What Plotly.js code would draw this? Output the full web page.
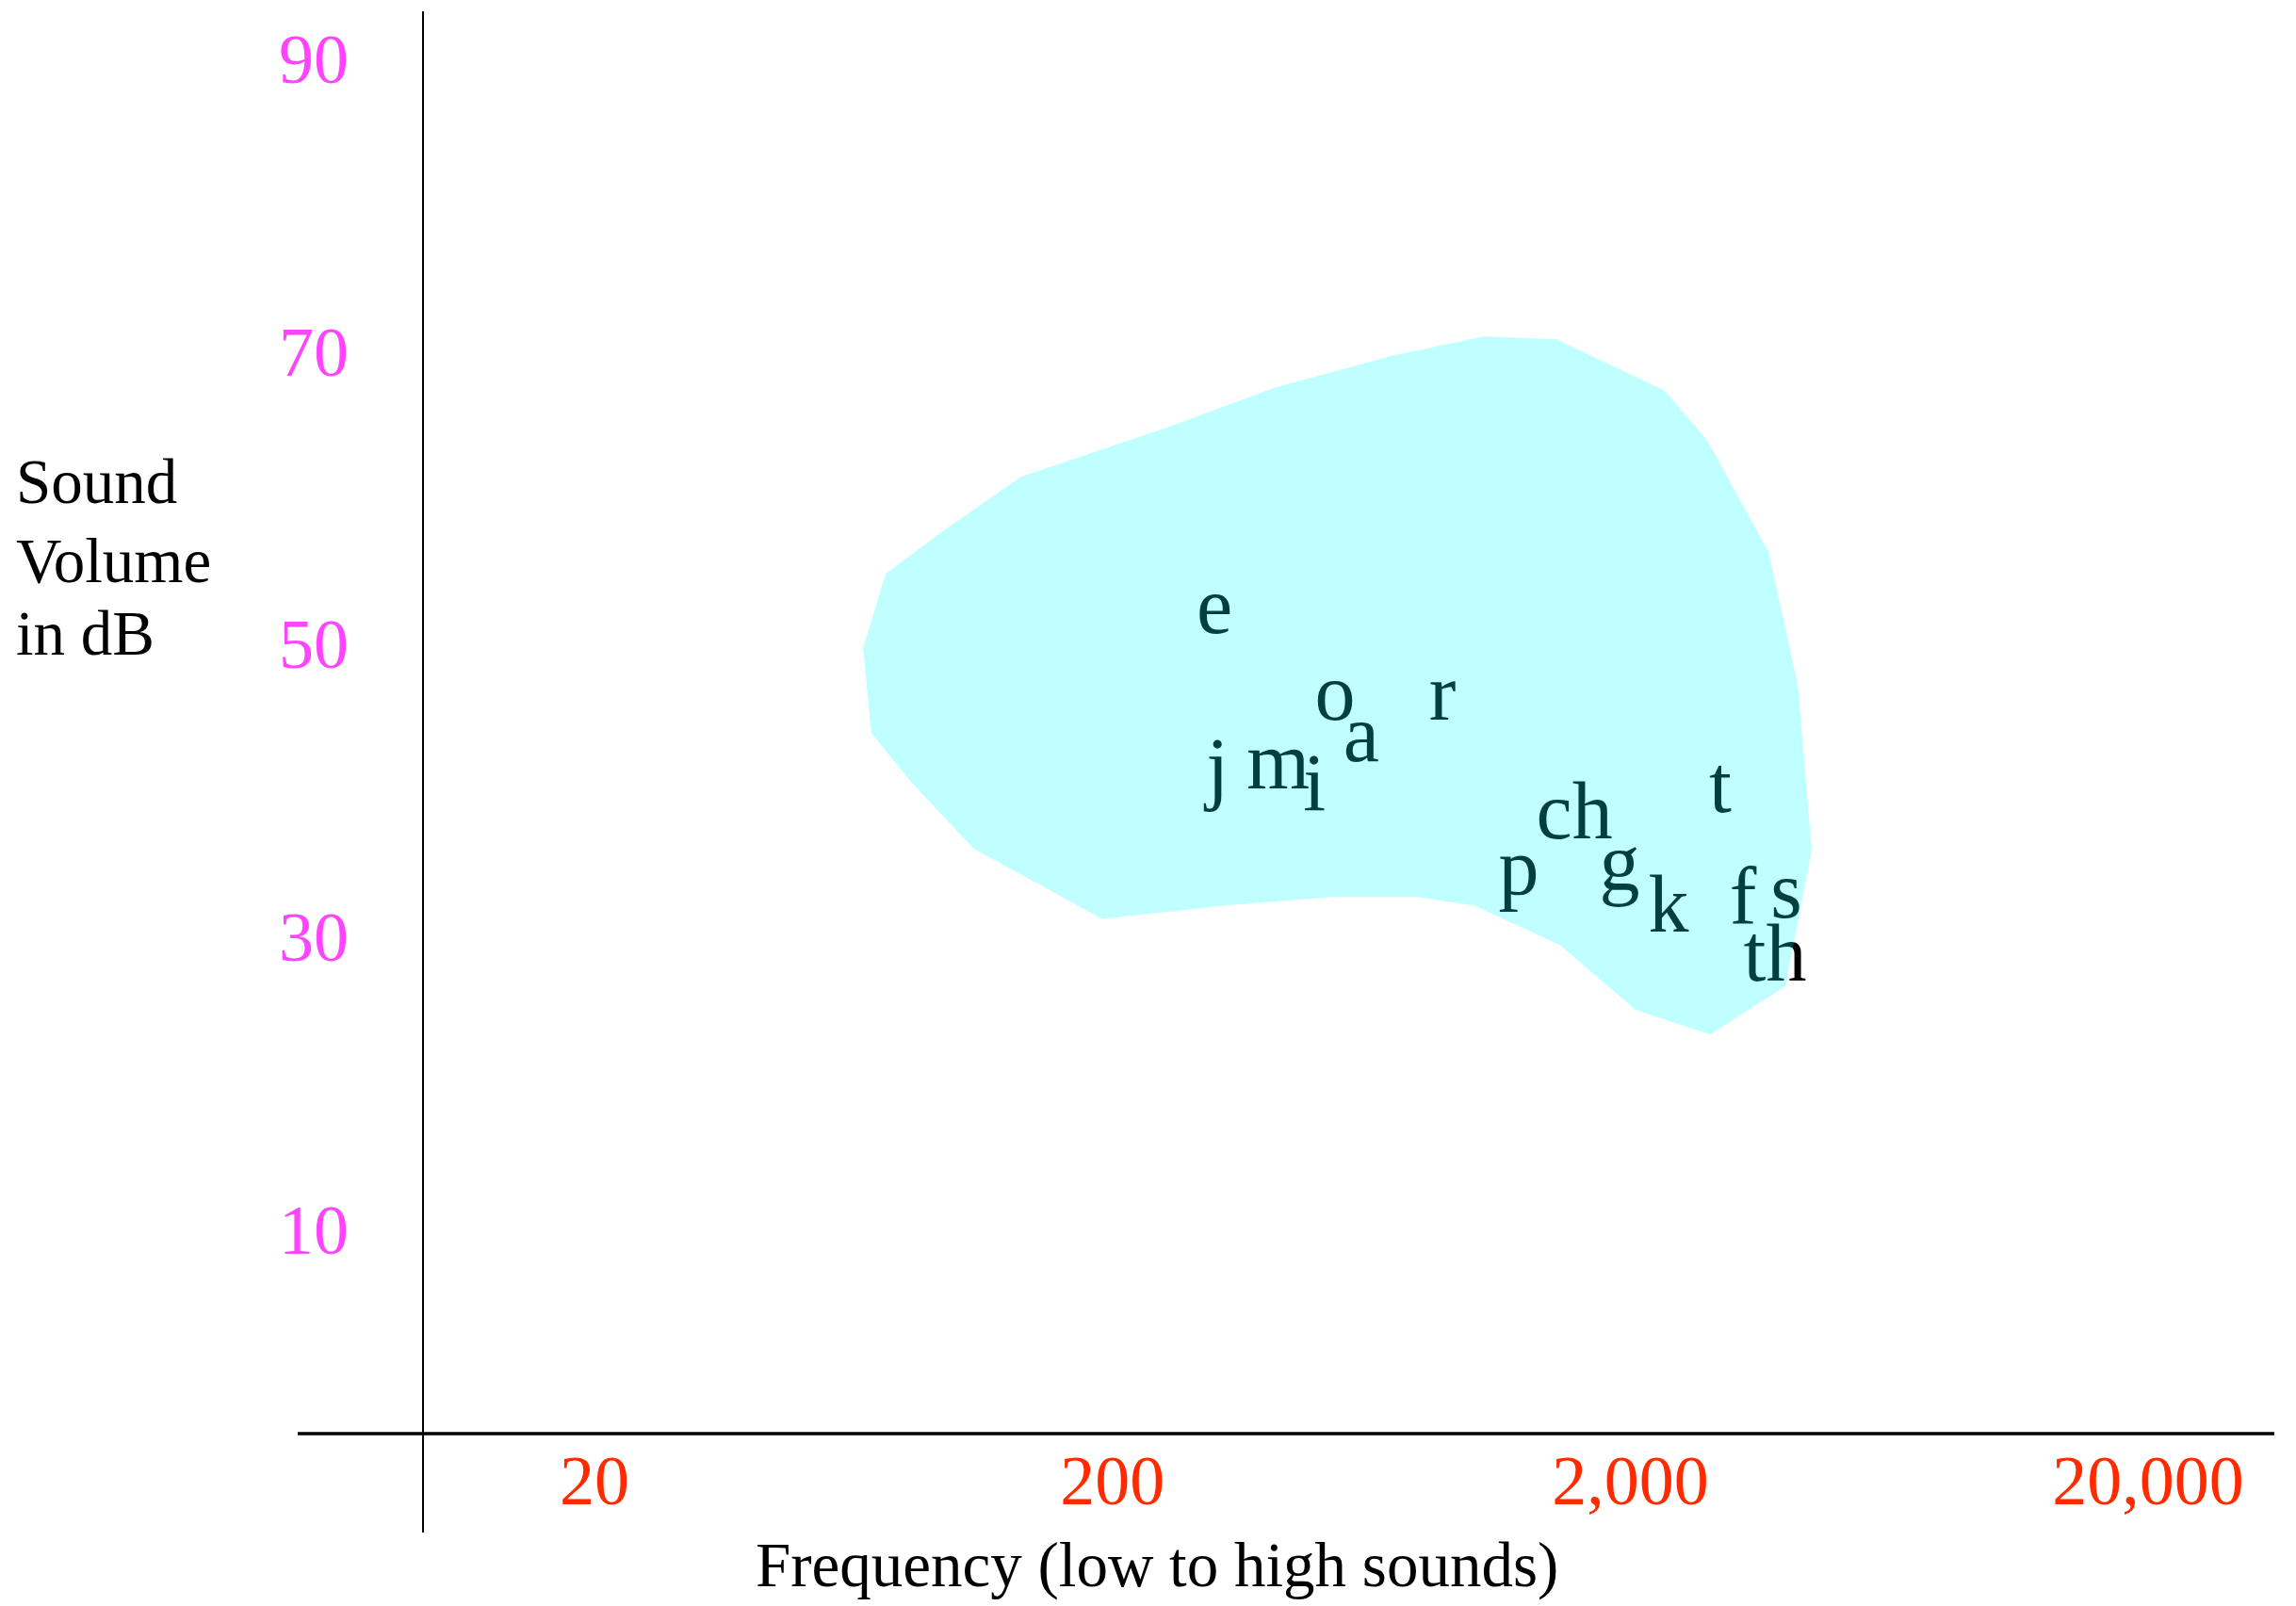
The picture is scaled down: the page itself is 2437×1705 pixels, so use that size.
<!DOCTYPE html>
<html>
<head>
<meta charset="utf-8">
<script src="https://cdn.plot.ly/plotly-3.0.1.min.js"></script>
<style>html,body{margin:0;padding:0;background:#fff;}#chart{width:2437px;height:1705px;}</style>
</head>
<body>
<div id="chart"></div>
<script>
// Speech sounds: letter, frequency (Hz), level (dB)
var phonemes = ['e', 'o', 'r', 'a', 'j', 'm', 'i', 't', 'ch', 'p', 'g', 'k', 'f', 's', 'th'];
var phonemeFreq = [315, 538, 868, 605, 319, 418, 491, 2985, 1560, 1218, 1907, 2371, 3300, 4000, 3806];
var phonemeDb = [52.1, 46.2, 46.2, 43.4, 41.1, 41.5, 40.0, 39.9, 38.1, 34.3, 34.6, 31.7, 32.3, 32.7, 28.4];

// Outline of the speech area
var bananaFreq = [66, 73, 95, 133, 256, 412, 695, 1043, 1440, 2331, 2815, 3696, 4209, 4481, 3985, 2850, 2048, 1465, 1000, 778, 531, 326, 191, 108, 82, 68.5];
var bananaDb = [49.7, 54.8, 57.8, 61.4, 64.8, 67.5, 69.7, 71.0, 70.8, 67.3, 63.9, 56.3, 47.3, 35.9, 26.6, 23.3, 25.0, 29.4, 32.1, 32.7, 32.7, 32.1, 31.2, 36.0, 40.5, 43.9];

// Tick labels
var xTickVals = [20, 200, 2000, 20000];
var xTickText = ['20', '200', '2,000', '20,000'];
var yTickVals = [10, 30, 50, 70, 90];
var yTickText = ['10', '30', '50', '70', '90'];

var yTitleLines = ['Sound', 'Volume', 'in dB'];
var xTitle = 'Frequency (low to high sounds)';

var serif = 'Liberation Serif, Times New Roman, Times, serif';

var traces = [
  {
    type: 'scatter',
    mode: 'text',
    x: phonemeFreq,
    y: phonemeDb,
    text: phonemes,
    textposition: 'middle center',
    textfont: {family: serif, size: 86, color: '#000000'},
    hoverinfo: 'skip',
    showlegend: false
  },
  {
    type: 'scatter',
    mode: 'lines',
    x: bananaFreq,
    y: bananaDb,
    fill: 'toself',
    fillcolor: 'rgba(0,255,255,0.25)',
    line: {width: 0, color: 'rgba(0,0,0,0)'},
    hoverinfo: 'skip',
    showlegend: false
  }
];

var yTitleY = [0.6695, 0.6139, 0.5629];
var annotations = yTitleLines.map(function (t, i) {
  return {
    text: t, xref: 'paper', yref: 'paper', x: -0.2209, y: yTitleY[i],
    xanchor: 'left', yanchor: 'middle', showarrow: false,
    font: {family: serif, size: 67, color: '#000000'}
  };
});
annotations.push({
  text: xTitle, xref: 'paper', yref: 'paper', x: 0.3964, y: -0.0921,
  xanchor: 'center', yanchor: 'middle', showarrow: false,
  font: {family: serif, size: 67, color: '#000000'}
});

var layout = {
  width: 2437,
  height: 1705,
  margin: {l: 449, r: 23, t: 12, b: 183, pad: 0},
  paper_bgcolor: '#ffffff',
  plot_bgcolor: '#ffffff',
  showlegend: false,
  xaxis: {
    type: 'log',
    range: [0.96994, 4.54462],
    tickvals: xTickVals,
    ticktext: xTickText,
    ticks: '',
    showgrid: false,
    zeroline: false,
    showline: false,
    tickfont: {family: serif, size: 74, color: '#ff2a00'}
  },
  yaxis: {
    range: [-3.966, 93.218],
    tickvals: yTickVals,
    ticktext: yTickText,
    ticks: '',
    ticklabelstandoff: 78,
    showgrid: false,
    zeroline: false,
    showline: false,
    tickfont: {family: serif, size: 74, color: '#ff44ff'}
  },
  shapes: [
    {type: 'line', xref: 'paper', yref: 'paper', x0: -0.0677, x1: 1, y0: 0, y1: 0,
     line: {color: '#000000', width: 3.5}},
    {type: 'line', xref: 'paper', yref: 'paper', x0: 0, x1: 0, y0: -0.0695, y1: 1,
     line: {color: '#000000', width: 2}}
  ],
  annotations: annotations
};

Plotly.newPlot('chart', traces, layout, {displayModeBar: false, staticPlot: true});
</script>
</body>
</html>
